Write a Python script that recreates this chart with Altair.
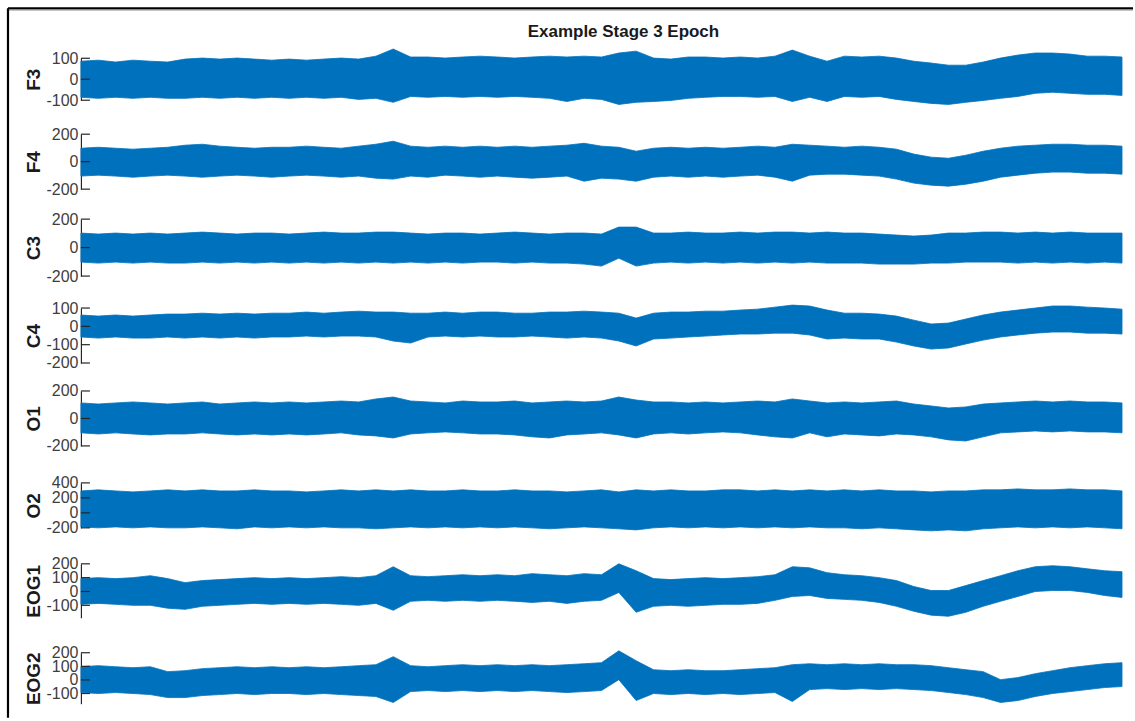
import altair as alt
import pandas as pd

# ---- sample times (seconds) at which the envelope of each trace was read ----
TIME = [0.0, 0.5, 1.0, 1.5, 2.0, 2.5, 3.0, 3.5, 4.0, 4.5, 5.0, 5.5, 6.0, 6.5, 7.0, 7.5,
        8.0, 8.5, 9.0, 9.5, 10.0, 10.5, 11.0, 11.5, 12.0, 12.5, 13.0, 13.5, 14.0, 14.5,
        15.0, 15.5, 16.0, 16.5, 17.0, 17.5, 18.0, 18.5, 19.0, 19.5, 20.0, 20.5, 21.0,
        21.5, 22.0, 22.5, 23.0, 23.5, 24.0, 24.5, 25.0, 25.5, 26.0, 26.5, 27.0, 27.5,
        28.0, 28.5, 29.0, 29.5, 30.0]

CHANNELS = ["F3", "F4", "C3", "C4", "O1", "O2", "EOG1", "EOG2"]

# ---- upper / lower envelopes of each trace (µV) ----
F3_UPPER = [86, 91, 82, 91, 86, 82, 96, 101, 96, 101, 96, 91, 96, 91, 96, 101, 96, 110,
            144, 106, 106, 101, 106, 110, 106, 101, 106, 110, 106, 110, 106, 125, 134,
            101, 96, 106, 106, 101, 106, 101, 110, 139, 110, 86, 110, 106, 110, 101,
            86, 77, 67, 67, 82, 101, 115, 125, 125, 120, 110, 110, 106]
F3_LOWER = [-86, -91, -86, -91, -86, -91, -91, -86, -91, -86, -91, -86, -91, -86, -91,
            -86, -96, -91, -110, -82, -86, -82, -86, -82, -86, -82, -86, -91, -106, -91,
            -96, -120, -110, -106, -101, -91, -86, -82, -82, -86, -82, -106, -86, -106,
            -82, -86, -82, -96, -106, -115, -120, -110, -101, -91, -82, -67, -62, -67,
            -72, -72, -77]

F4_UPPER = [98, 105, 98, 91, 98, 105, 120, 127, 113, 105, 98, 105, 105, 113, 105, 98,
            113, 127, 149, 113, 105, 113, 105, 113, 105, 113, 105, 113, 120, 134, 113,
            105, 76, 98, 105, 98, 105, 98, 105, 113, 105, 127, 120, 113, 105, 113, 105,
            91, 55, 33, 25, 47, 76, 98, 113, 120, 127, 127, 120, 120, 113]
F4_LOWER = [-105, -98, -105, -113, -105, -98, -105, -113, -105, -98, -105, -113, -105,
            -98, -105, -113, -105, -120, -127, -105, -113, -98, -105, -113, -105, -113,
            -120, -113, -105, -142, -120, -127, -142, -113, -105, -113, -105, -113, -105,
            -98, -113, -142, -98, -91, -91, -98, -105, -127, -156, -171, -178, -164,
            -142, -113, -98, -84, -76, -76, -84, -84, -91]

C3_UPPER = [102, 95, 102, 95, 102, 95, 102, 109, 102, 95, 102, 102, 95, 102, 109, 102,
            102, 109, 109, 102, 95, 102, 102, 95, 102, 109, 102, 95, 102, 102, 95, 144,
            144, 102, 102, 109, 102, 102, 109, 102, 109, 109, 102, 109, 102, 102, 95, 88,
            81, 88, 102, 102, 109, 109, 102, 109, 102, 109, 102, 102, 102]
C3_LOWER = [-102, -109, -102, -109, -102, -109, -109, -102, -109, -102, -109, -102, -109,
            -102, -109, -102, -109, -102, -109, -102, -109, -102, -109, -102, -102, -109,
            -102, -109, -109, -116, -130, -74, -130, -109, -102, -109, -102, -109, -102,
            -109, -102, -109, -102, -109, -109, -109, -116, -116, -116, -109, -109, -102,
            -102, -102, -109, -102, -109, -102, -109, -102, -109]

C4_UPPER = [62, 56, 62, 56, 62, 67, 67, 72, 67, 72, 67, 72, 72, 78, 72, 78, 83, 78, 78,
            72, 72, 78, 72, 78, 78, 72, 72, 78, 78, 83, 78, 72, 45, 72, 78, 78, 83, 83,
            89, 94, 105, 116, 111, 89, 72, 72, 67, 56, 34, 13, 18, 40, 62, 78, 89, 100,
            111, 111, 105, 100, 94]
C4_LOWER = [-58, -64, -58, -64, -64, -58, -64, -58, -64, -58, -64, -58, -58, -53, -58,
            -53, -53, -58, -80, -91, -58, -53, -58, -53, -58, -58, -53, -58, -64, -58,
            -64, -80, -107, -69, -64, -58, -53, -47, -42, -42, -37, -37, -47, -69, -64,
            -69, -69, -86, -107, -124, -118, -96, -75, -58, -47, -37, -31, -31, -37, -37,
            -42]

O1_UPPER = [113, 105, 113, 120, 113, 105, 113, 120, 105, 113, 120, 113, 120, 113, 120,
            127, 120, 142, 156, 127, 120, 113, 127, 120, 120, 127, 113, 120, 127, 120,
            127, 156, 134, 120, 120, 113, 120, 113, 120, 127, 120, 142, 127, 113, 120,
            113, 120, 127, 105, 91, 76, 84, 105, 113, 120, 127, 120, 127, 120, 120, 113]
O1_LOWER = [-105, -113, -105, -113, -120, -113, -113, -105, -113, -120, -113, -120, -113,
            -120, -113, -105, -120, -127, -142, -113, -105, -98, -105, -113, -113, -120,
            -134, -142, -120, -113, -105, -120, -142, -113, -105, -113, -105, -98, -105,
            -120, -134, -142, -105, -134, -113, -120, -127, -113, -120, -134, -156, -164,
            -134, -105, -98, -91, -98, -91, -98, -98, -105]

O2_UPPER = [293, 307, 293, 280, 293, 307, 293, 307, 293, 293, 307, 293, 293, 280, 293,
            307, 293, 307, 293, 307, 293, 293, 307, 293, 293, 307, 293, 293, 280, 293,
            307, 280, 307, 293, 307, 293, 293, 307, 307, 293, 307, 293, 307, 293, 307,
            293, 307, 293, 293, 280, 293, 293, 307, 307, 320, 307, 307, 320, 307, 307,
            293]
O2_LOWER = [-187, -200, -187, -200, -187, -200, -200, -187, -200, -213, -187, -200, -187,
            -200, -187, -200, -200, -213, -200, -187, -200, -187, -200, -187, -200, -187,
            -200, -213, -200, -187, -200, -213, -227, -200, -187, -200, -187, -200, -187,
            -200, -187, -200, -187, -200, -200, -213, -200, -213, -227, -240, -227, -240,
            -213, -200, -187, -200, -187, -200, -187, -200, -213]

EOG1_UPPER = [93, 100, 93, 100, 114, 93, 64, 79, 86, 93, 100, 93, 100, 93, 100, 107, 100,
              114, 179, 114, 107, 114, 121, 114, 121, 114, 129, 121, 114, 129, 121, 200,
              150, 93, 86, 93, 100, 93, 100, 107, 121, 179, 171, 136, 121, 114, 100, 79,
              36, 7, 7, 43, 79, 114, 150, 179, 186, 179, 164, 150, 143]
EOG1_LOWER = [-93, -86, -93, -100, -100, -121, -129, -107, -100, -93, -86, -93, -86, -93,
              -86, -93, -100, -86, -136, -71, -64, -71, -64, -71, -64, -71, -79, -71, -86,
              -71, -64, -7, -150, -107, -100, -107, -100, -93, -93, -86, -64, -36, -29,
              -50, -57, -64, -79, -107, -143, -171, -179, -150, -107, -71, -36, 0, 7, 7,
              -7, -29, -43]

EOG2_UPPER = [97, 105, 97, 90, 97, 61, 68, 83, 90, 97, 90, 97, 90, 97, 90, 97, 105, 112,
              171, 105, 97, 105, 112, 105, 112, 105, 112, 105, 112, 119, 127, 214, 141,
              75, 68, 75, 68, 68, 75, 83, 90, 112, 119, 112, 119, 112, 119, 112, 112, 105,
              90, 75, 61, 2, 17, 46, 68, 90, 105, 119, 127]
EOG2_LOWER = [-93, -100, -93, -100, -108, -130, -130, -115, -108, -100, -108, -100, -100,
              -108, -100, -108, -115, -122, -166, -86, -78, -86, -78, -86, -78, -86, -78,
              -86, -93, -86, -78, 2, -152, -100, -108, -100, -108, -100, -108, -100, -93,
              -159, -71, -64, -71, -64, -71, -64, -71, -78, -93, -108, -130, -166, -152,
              -122, -100, -86, -71, -56, -49]

UPPER = [F3_UPPER, F4_UPPER, C3_UPPER, C4_UPPER, O1_UPPER, O2_UPPER, EOG1_UPPER, EOG2_UPPER]
LOWER = [F3_LOWER, F4_LOWER, C3_LOWER, C4_LOWER, O1_LOWER, O2_LOWER, EOG1_LOWER, EOG2_LOWER]

Y_DOMAINS = [[-100, 100], [-200, 200], [-200, 200], [-200, 100], [-200, 200],
             [-200, 400], [-190, 200], [-175, 200]]
Y_TICKS = [[-100, 0, 100], [-200, 0, 200], [-200, 0, 200], [-200, -100, 0, 100],
           [-200, 0, 200], [-200, 0, 200, 400], [-100, 0, 100, 200], [-100, 0, 100, 200]]

TITLE = "Example Stage 3 Epoch"

# ---- layout / style (pixels) ----
PANEL_H = [76, 85, 89, 83, 92, 81, 89, 51]   # slot height of each subplot
AXIS_H = [42, 55, 57, 55, 55, 45, 54, 51]    # length of each y axis
WIDTH = 1042
BLUE = "#0072BD"
AX = "#262626"
FONT = "Liberation Sans"

one_row = alt.Data(values=[{"k": 1}])
panels = []
for i, name in enumerate(CHANNELS):
    df = pd.DataFrame({"t": TIME, "hi": UPPER[i], "lo": LOWER[i]})
    ys = alt.Scale(domain=Y_DOMAINS[i], range=[AXIS_H[i], 0], nice=False, zero=False)
    xs = alt.Scale(domain=[0, 30], nice=False, zero=False)
    axis = alt.Axis(values=Y_TICKS[i], title=name, titleX=-41, titleY=AXIS_H[i] / 2,
                    titleAngle=270, titleBaseline="alphabetic", titleAlign="center",
                    titleFontWeight="bold", titleFontSize=19, titleColor="#1a1a1a",
                    titleFont=FONT, labelFont=FONT, labelFontSize=16, labelColor="#3d3d3d",
                    labelExpr="'' + datum.value",
                    labelPadding=3, ticks=False, domainColor=AX,
                    domainWidth=1.2, grid=False, labelOverlap=False, labelFlush=False)
    area = alt.Chart(df).mark_area(color=BLUE, opacity=1, interpolate="linear",
                                   stroke=BLUE, strokeWidth=0.8).encode(
        x=alt.X("t:Q", scale=xs, axis=None),
        y=alt.Y("hi:Q", scale=ys, axis=axis),
        y2="lo:Q",
    )
    tdf = pd.DataFrame({"v": Y_TICKS[i]})
    ticks = alt.Chart(tdf).mark_rule(color=AX, strokeWidth=1.2).encode(
        y=alt.Y("v:Q", scale=ys, axis=axis),
        x=alt.value(0), x2=alt.value(9),
    )
    layers = [area, ticks]
    if i == 0:
        top_border = alt.Chart(one_row).mark_rule(color="black", strokeWidth=2.2).encode(
            x=alt.value(-73), x2=alt.value(1053), y=alt.value(-50))
        top_shadow = alt.Chart(one_row).mark_rule(color="#b5b5b5", strokeWidth=1).encode(
            x=alt.value(-72), x2=alt.value(1053), y=alt.value(-48))
        left_border = alt.Chart(one_row).mark_rule(color="black", strokeWidth=2.2).encode(
            x=alt.value(-73), y=alt.value(-50), y2=alt.value(660))
        title = alt.Chart(one_row).mark_text(text=TITLE, font=FONT, fontSize=17,
                                             fontWeight="bold", color="#1a1a1a",
                                             align="center", baseline="middle").encode(
            x=alt.value(543), y=alt.value(-26))
        layers += [top_border, top_shadow, left_border, title]
    panels.append(alt.layer(*layers).properties(width=WIDTH, height=PANEL_H[i]))

chart = alt.vconcat(*panels, spacing=0, bounds="flush").properties(
    padding={"left": 6, "top": 6, "right": 0, "bottom": 0},
    background="white",
).configure(font=FONT).configure_view(stroke="transparent", strokeWidth=0)

chart.save("out.html", embed_options={"renderer": "svg", "actions": False})
